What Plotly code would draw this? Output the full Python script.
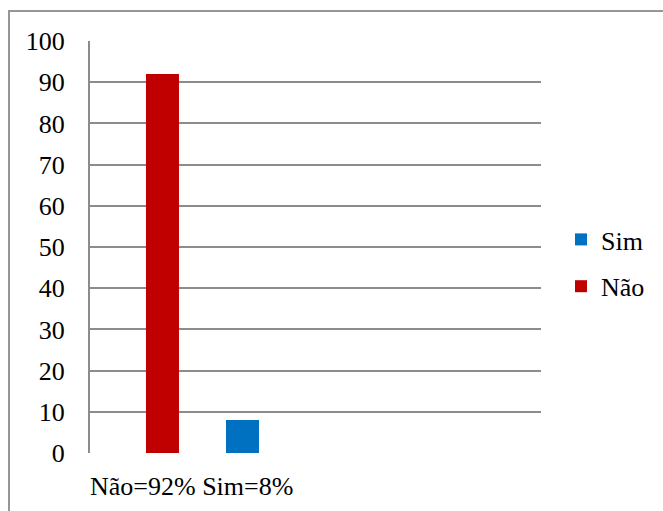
import plotly.graph_objects as go

# Survey answers (percent)
categories = ["Não", "Sim"]
values = [92, 8]
colors = {"Não": "#C00000", "Sim": "#0070C0"}
legend_order = ["Sim", "Não"]
category_label = "Não=92% Sim=8%"
y_ticks = list(range(0, 101, 10))

W, H = 663, 511
L, R, T, B = 90, 122, 41, 58
grid_color = "#8c8c8c"
font = dict(family="'Liberation Serif', serif", size=26, color="#000000")

fig = go.Figure()
for name in legend_order:
    i = categories.index(name)
    fig.add_bar(
        x=[i], y=[values[i]], name=name, legendgroup=name,
        marker=dict(color=colors[name], line=dict(width=0)),
        width=0.4125,
    )

fig.update_layout(
    width=W, height=H,
    margin=dict(l=L, r=R, t=T, b=B),
    paper_bgcolor="white", plot_bgcolor="white",
    font=font,
    barmode="overlay",
    showlegend=True,
    legend=dict(
        xref="container", x=(561 / W), xanchor="left",
        yref="container", y=(H - 263) / H, yanchor="middle",
        traceorder="grouped", tracegroupgap=10,
        font=font, bgcolor="rgba(0,0,0,0)",
    ),
    xaxis=dict(
        range=[-0.906, 4.731], showticklabels=False, showgrid=False,
        zeroline=False, showline=False, fixedrange=True,
    ),
    yaxis=dict(
        range=[0, 100], tickvals=y_ticks, ticktext=[str(v) for v in y_ticks],
        tickfont=font,
        showgrid=True, gridcolor=grid_color, gridwidth=2,
        showline=True, linecolor=grid_color, linewidth=2,
        zeroline=False, ticks="", ticklabelstandoff=18, fixedrange=True,
    ),
    annotations=[dict(
        text=category_label, xref="paper", yref="paper",
        x=0, y=0, xanchor="left", yanchor="middle", yshift=-33, xshift=-2,
        showarrow=False, font=font,
    )],
    shapes=[dict(
        type="rect", xref="paper", yref="paper",
        x0=(9 - L) / (W - L - R), x1=(664 - L) / (W - L - R),
        y0=-0.2, y1=(H - B - 11) / (H - T - B),
        line=dict(color="#969696", width=2), layer="below",
    )],
)

fig.write_html("out.html", config={"displayModeBar": False})
